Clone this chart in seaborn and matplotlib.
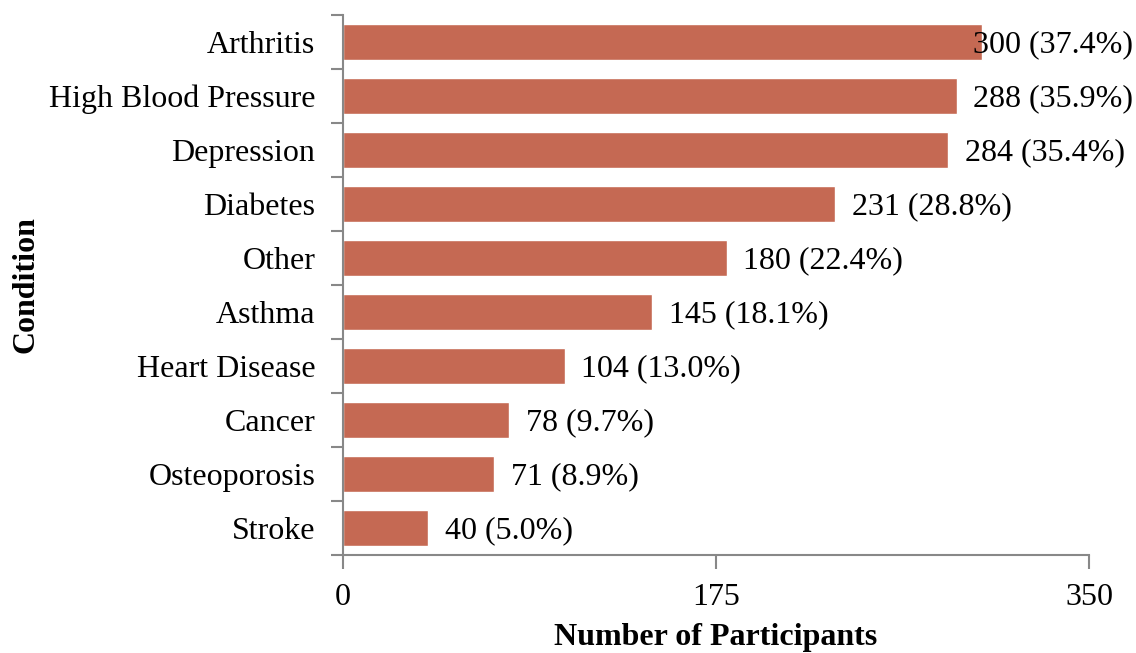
import matplotlib
matplotlib.use("Agg")
import matplotlib.pyplot as plt
import seaborn as sns
import pandas as pd

conditions = ["Arthritis", "High Blood Pressure", "Depression", "Diabetes", "Other",
              "Asthma", "Heart Disease", "Cancer", "Osteoporosis", "Stroke"]
counts = [300, 288, 284, 231, 180, 145, 104, 78, 71, 40]
percents = [37.4, 35.9, 35.4, 28.8, 22.4, 18.1, 13.0, 9.7, 8.9, 5.0]
x_ticks = [0, 175, 350]

df = pd.DataFrame({"Condition": conditions, "Count": counts})

sns.set_style("white")
plt.rcParams['font.family'] = ['Liberation Serif', 'DejaVu Serif']
plt.rcParams['text.color'] = 'black'
plt.rcParams['xtick.labelcolor'] = 'black'
plt.rcParams['ytick.labelcolor'] = 'black'
plt.rcParams['axes.labelcolor'] = 'black'

FS = 23

fig = plt.figure(figsize=(11.36, 6.53), dpi=100)
ax = fig.add_axes([343/1136, 1-555/653, (1089-343)/1136, (555-15)/653])

bar_color = "#C56953"
sns.barplot(data=df, y="Condition", x="Count", orient="h", color=bar_color,
            width=0.67, saturation=1, ax=ax)

ax.set_xlim(0, 350)
ax.set_ylim(len(conditions)-0.5, -0.5)
ax.set_xticks(x_ticks)
ax.set_xticklabels([str(t) for t in x_ticks], fontsize=FS)

ax.set_yticks([i for i in range(len(conditions))])
ax.set_yticklabels(conditions, fontsize=FS)
ax.tick_params(axis='y', which='major', length=0, pad=20)
ax.set_yticks([i - 0.5 for i in range(len(conditions)+1)], minor=True)
ax.tick_params(axis='y', which='minor', length=9, width=1.5, color="#888888", left=True)
ax.tick_params(axis='x', which='major', length=10, width=1.5, color="#888888", bottom=True, pad=10)

for s in ["top", "right"]:
    ax.spines[s].set_visible(False)
for s in ["left", "bottom"]:
    ax.spines[s].set_color("#888888")
    ax.spines[s].set_linewidth(1.5)

ax.set_xlabel("Number of Participants", fontsize=FS, fontweight="bold", va="center")
ax.xaxis.set_label_coords(0.5, (555-638)/540)
ax.set_ylabel("Condition", fontsize=FS, fontweight="bold")
ax.yaxis.set_label_coords(-0.405, 0.5)

fig.canvas.draw()
renderer = fig.canvas.get_renderer()
for i, (c, p) in enumerate(zip(counts, percents)):
    t = ax.annotate(f"{c} ({p:.1f}%)", xy=(c, i), xytext=(12, -2), textcoords="offset points",
                    ha="left", va="center", fontsize=FS, color="black")
    bb = t.get_window_extent(renderer)
    if bb.x1 > 1133:
        shift = (bb.x1 - 1133) * 72 / fig.dpi
        t.set_position((12 - shift, -2))

fig.savefig("out.png", dpi=100)
